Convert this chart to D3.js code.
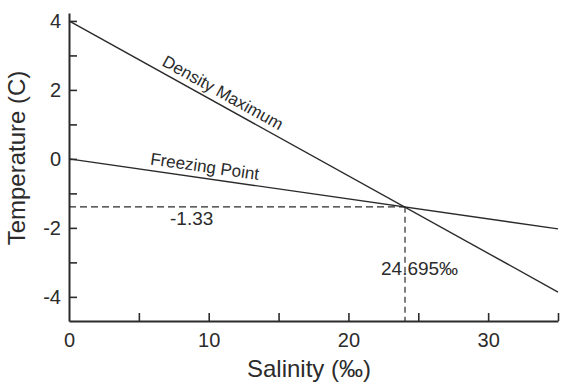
<!DOCTYPE html>
<html>
<head>
<meta charset="utf-8">
<script src="https://cdn.jsdelivr.net/npm/d3@7"></script>
<style>
  html, body { margin: 0; padding: 0; background: #fff; }
  svg { display: block; font-family: "Liberation Sans", Arial, Helvetica, sans-serif; }
</style>
</head>
<body>
<svg id="chart" width="562" height="387"></svg>
<script>
// ---- data ----
const densityMaxSalinity = [0, 35];
const densityMaxTemp = [4, -3.86];
const freezingSalinity = [0, 35];
const freezingTemp = [0, -2.03];
const crossSalinity = 24.05;   // where the two lines cross (as drawn)
const crossTemp = -1.39;
const crossTempLabel = "-1.33";
const crossSalinityLabel = "24.695‰";
const xTickValues = [0, 5, 10, 15, 20, 25, 30, 35];
const xTickLabels = [0, 10, 20, 30];
const yTickValues = [-4, -3, -2, -1, 0, 1, 2, 3, 4];
const yTickLabels = [-4, -2, 0, 2, 4];
const xTitle = "Salinity (‰)";
const yTitle = "Temperature (C)";

// ---- layout ----
const svg = d3.select("#chart");
const ink = "#2b2b2b";
const x = d3.scaleLinear().domain([0, 35]).range([69, 558]);
const y = d3.scaleLinear().domain([-4.7, 4.23]).range([321, 13]);

// axes
const xAxis = d3.axisBottom(x)
  .tickValues(xTickValues)
  .tickSizeInner(-8).tickSizeOuter(0).tickPadding(12)
  .tickFormat(d => xTickLabels.includes(d) ? d : "");
const yAxis = d3.axisLeft(y)
  .tickValues(yTickValues)
  .tickSizeInner(-8).tickSizeOuter(0).tickPadding(8)
  .tickFormat(d => yTickLabels.includes(d) ? d : "");

const gx = svg.append("g").attr("transform", `translate(0,${y(-4.7)})`).call(xAxis);
const gy = svg.append("g").attr("transform", `translate(${x(0)},0)`).call(yAxis);
[gx, gy].forEach(g => {
  g.selectAll("path.domain").attr("stroke", ink).attr("stroke-width", 2);
  g.selectAll(".tick line").attr("stroke", ink).attr("stroke-width", 1.6);
  g.selectAll(".tick text").attr("fill", ink).attr("font-size", 20)
    .attr("font-family", "'Liberation Sans', Arial, sans-serif");
});
gx.selectAll(".tick").filter(d => d === 0).select("line").remove();

// lines
const line = d3.line().x(d => x(d[0])).y(d => y(d[1]));
const densityPts = densityMaxSalinity.map((s, i) => [s, densityMaxTemp[i]]);
const freezePts = freezingSalinity.map((s, i) => [s, freezingTemp[i]]);
svg.append("path").datum(densityPts).attr("d", line)
  .attr("fill", "none").attr("stroke", ink).attr("stroke-width", 1.4);
svg.append("path").datum(freezePts).attr("d", line)
  .attr("fill", "none").attr("stroke", ink).attr("stroke-width", 1.4);

// dashed guides
svg.append("path").datum([[0, crossTemp], [crossSalinity, crossTemp]]).attr("d", line)
  .attr("fill", "none").attr("stroke", ink).attr("stroke-width", 1.2).attr("stroke-dasharray", "7,4");
svg.append("path").datum([[crossSalinity, crossTemp], [crossSalinity, -4.7]]).attr("d", line)
  .attr("fill", "none").attr("stroke", ink).attr("stroke-width", 1.2).attr("stroke-dasharray", "6,4");

// line labels, rotated along their lines
function lineLabel(pts, s, text, off) {
  const t = pts[0][1] + (pts[1][1] - pts[0][1]) * (s - pts[0][0]) / (pts[1][0] - pts[0][0]);
  const ang = Math.atan2(y(pts[1][1]) - y(pts[0][1]), x(pts[1][0]) - x(pts[0][0])) * 180 / Math.PI;
  svg.append("text")
    .attr("transform", `translate(${x(s)},${y(t)}) rotate(${ang})`)
    .attr("y", -off)
    .attr("text-anchor", "middle")
    .attr("font-size", 17).attr("fill", ink)
    .text(text);
}
lineLabel(densityPts, 10.6, "Density Maximum", 6);
lineLabel(freezePts, 9.6, "Freezing Point", 6);

// value annotations
svg.append("text").attr("x", 170).attr("y", y(crossTemp) + 18)
  .attr("font-size", 19).attr("fill", ink).text(crossTempLabel);
svg.append("text").attr("x", x(crossSalinity) - 24).attr("y", 275)
  .attr("font-size", 19).attr("fill", ink).text(crossSalinityLabel);

// axis titles
svg.append("text").attr("x", 309).attr("y", 377)
  .attr("text-anchor", "middle").attr("font-size", 24).attr("fill", ink).text(xTitle);
svg.append("text").attr("transform", `translate(25,158) rotate(-90)`)
  .attr("text-anchor", "middle").attr("font-size", 24).attr("fill", ink).text(yTitle);
</script>
</body>
</html>
